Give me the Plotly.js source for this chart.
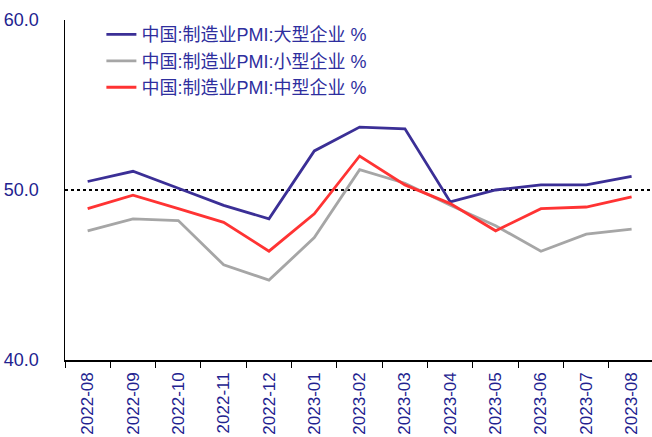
<!DOCTYPE html>
<html>
<head>
<meta charset="utf-8">
<script src="https://cdn.plot.ly/plotly-3.0.1.min.js"></script>
<style>html,body{margin:0;padding:0;background:#fff;}#chart{width:652px;height:437px;}</style>
</head>
<body>
<div id="chart"></div>
<script>
const months = ["2022-08","2022-09","2022-10","2022-11","2022-12","2023-01","2023-02","2023-03","2023-04","2023-05","2023-06","2023-07","2023-08"];
const largePMI = [50.5, 51.1, 50.1, 49.1, 48.3, 52.3, 53.7, 53.6, 49.3, 50.0, 50.3, 50.3, 50.8];
const smallPMI = [47.6, 48.3, 48.2, 45.6, 44.7, 47.2, 51.2, 50.4, 49.1, 47.9, 46.4, 47.4, 47.7];
const mediumPMI = [48.9, 49.7, 48.9, 48.1, 46.4, 48.6, 52.0, 50.3, 49.2, 47.6, 48.9, 49.0, 49.6];
const seriesNames = ["中国:制造业PMI:大型企业 %", "中国:制造业PMI:小型企业 %", "中国:制造业PMI:中型企业 %"];

const fontFam = "Liberation Sans, Arial, Noto Sans CJK SC, sans-serif";
const textColor = "#22228f";

const traces = [
  {x: months, y: largePMI, name: seriesNames[0], legendgroup: "a", type: "scatter", mode: "lines", line: {color: "#3b2f96", width: 2.8}},
  {x: months, y: smallPMI, name: seriesNames[1], legendgroup: "b", type: "scatter", mode: "lines", line: {color: "#a6a6a6", width: 2.8}},
  {x: months, y: mediumPMI, name: seriesNames[2], legendgroup: "c", type: "scatter", mode: "lines", line: {color: "#ff3333", width: 2.8}}
];

const layout = {
  width: 652, height: 437,
  margin: {l: 65, r: 0, t: 20, b: 77},
  paper_bgcolor: "#fff", plot_bgcolor: "#fff",
  font: {family: fontFam, color: textColor, size: 17},
  showlegend: true,
  legend: {x: 0.062, y: 1.011, xanchor: "left", yanchor: "top", bgcolor: "rgba(0,0,0,0)",
           font: {family: fontFam, size: 18, color: "#2e2e9e"}, tracegroupgap: 0},
  xaxis: {
    type: "category", range: [-0.5, 12.45],
    tickson: "boundaries", ticks: "outside", ticklen: 6, tickcolor: "#000",
    tickangle: -90, showline: true, linecolor: "#000", linewidth: 1.5,
    showgrid: false, zeroline: false, fixedrange: true, ticklabelstandoff: 4,
    tickfont: {family: fontFam, size: 17, color: textColor}
  },
  yaxis: {
    range: [40, 60], dtick: 10, tick0: 40, tickformat: ".1f",
    showline: true, linecolor: "#000", linewidth: 1.5,
    showgrid: true, gridcolor: "#000", griddash: "dot", gridwidth: 1.5,
    zeroline: false, ticks: "", ticklabelstandoff: 21,
    tickfont: {family: fontFam, size: 18, color: textColor}
  }
};

Plotly.newPlot("chart", traces, layout, {displayModeBar: false, staticPlot: true});
</script>
</body>
</html>
